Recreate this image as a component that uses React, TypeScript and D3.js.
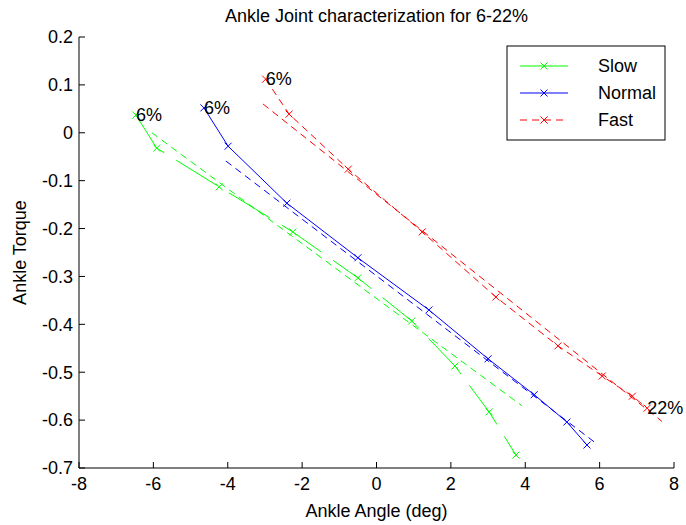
import React from "react";
import * as d3 from "d3";

const slowX = [-6.47, -5.91, -4.23, -2.25, -0.5, 0.95, 2.11, 3.03, 3.75];
const slowY = [0.037, -0.032, -0.113, -0.207, -0.303, -0.393, -0.487, -0.583, -0.673];
const normalX = [-4.64, -3.99, -2.41, -0.5, 1.41, 3.0, 4.24, 5.12, 5.66];
const normalY = [0.052, -0.028, -0.147, -0.261, -0.37, -0.472, -0.547, -0.604, -0.652];
const fastX = [-2.98, -2.35, -0.76, 1.23, 3.21, 4.88, 6.07, 6.88, 7.28];
const fastY = [0.112, 0.039, -0.076, -0.207, -0.343, -0.445, -0.508, -0.55, -0.575];

const slowFitX = [-6.04, 3.91];
const slowFitY = [0.0, -0.57];
const normalFitX = [-4.05, 5.88];
const normalFitY = [-0.059, -0.647];
const fastFitX = [-3.05, 7.68];
const fastFitY = [0.06, -0.603];

const xTicks = [-8, -6, -4, -2, 0, 2, 4, 6, 8];
const yTicks = [0.2, 0.1, 0, -0.1, -0.2, -0.3, -0.4, -0.5, -0.6, -0.7];
const yTickLabels = ["0.2", "0.1", "0", "-0.1", "-0.2", "-0.3", "-0.4", "-0.5", "-0.6", "-0.7"];
const seriesNames = ["Slow", "Normal", "Fast"];
const colors = ["#00ff00", "#0000ff", "#ff0000"];

const W = 686;
const H = 525;
const FONT = "Arial, 'Liberation Sans', Helvetica, sans-serif";

export default function App() {
  const x = d3.scaleLinear().domain([-8, 8]).range([79, 674]);
  const y = d3.scaleLinear().domain([-0.7, 0.2]).range([468, 37]);
  const line = d3
    .line<[number, number]>()
    .x((d) => x(d[0]))
    .y((d) => y(d[1]));

  const series = [
    { xs: slowX, ys: slowY, fx: slowFitX, fy: slowFitY, dash: "48,14" },
    { xs: normalX, ys: normalY, fx: normalFitX, fy: normalFitY, dash: undefined },
    { xs: fastX, ys: fastY, fx: fastFitX, fy: fastFitY, dash: "7,5" },
  ];

  const marker = (cx: number, cy: number, c: string, k: string) => (
    <path
      key={k}
      d={`M${cx - 3.5},${cy - 3.5}L${cx + 3.5},${cy + 3.5}M${cx - 3.5},${cy + 3.5}L${cx + 3.5},${cy - 3.5}`}
      stroke={c}
      strokeWidth={1}
      fill="none"
    />
  );

  const legendX = 507;
  const legendY = 46;
  const legendW = 158;
  const legendH = 94;

  return (
    <svg
      width={W}
      height={H}
      style={{ position: "absolute", left: 0, top: 0, background: "#fff" }}
      fontFamily={FONT}
    >
      <rect x={0} y={0} width={W} height={H} fill="#fff" />
      {series.map((s, i) => {
        const pts = s.xs.map((v, j) => [v, s.ys[j]] as [number, number]);
        const fit = s.fx.map((v, j) => [v, s.fy[j]] as [number, number]);
        return (
          <g key={i}>
            <path d={line(fit) || ""} stroke={colors[i]} fill="none" strokeWidth={1} strokeDasharray="7,5" />
            <path d={line(pts) || ""} stroke={colors[i]} fill="none" strokeWidth={1} strokeDasharray={s.dash} />
            {pts.map((p, j) => marker(x(p[0]), y(p[1]), colors[i], `m${i}-${j}`))}
          </g>
        );
      })}
      <text x={x(slowX[0])} y={y(slowY[0])} dy="0.35em" fontSize={18} fill="#000">6%</text>
      <text x={x(normalX[0])} y={y(normalY[0])} dy="0.35em" fontSize={18} fill="#000">6%</text>
      <text x={x(fastX[0])} y={y(fastY[0])} dy="0.35em" fontSize={18} fill="#000">6%</text>
      <text x={x(fastX[fastX.length - 1])} y={y(fastY[fastY.length - 1])} dy="0.35em" fontSize={18} fill="#000">22%</text>
      <line x1={x(-8)} x2={x(8)} y1={y(-0.7)} y2={y(-0.7)} stroke="#000" strokeWidth={1} />
      <line x1={x(-8)} x2={x(-8)} y1={y(-0.7)} y2={y(0.2)} stroke="#000" strokeWidth={1} />
      {xTicks.map((t) => (
        <g key={`xt${t}`}>
          <line x1={x(t)} x2={x(t)} y1={y(-0.7)} y2={y(-0.7) - 6} stroke="#000" />
          <text x={x(t)} y={y(-0.7) + 22} textAnchor="middle" fontSize={18} fill="#000">
            {t}
          </text>
        </g>
      ))}
      {yTicks.map((t, i) => (
        <g key={`yt${t}`}>
          <line x1={x(-8)} x2={x(-8) + 6} y1={y(t)} y2={y(t)} stroke="#000" />
          <text x={x(-8) - 6} y={y(t)} dy="0.35em" textAnchor="end" fontSize={18} fill="#000">
            {yTickLabels[i]}
          </text>
        </g>
      ))}
      <text x={(x(-8) + x(8)) / 2} y={22} textAnchor="middle" fontSize={18} fill="#000">
        Ankle Joint characterization for 6-22%
      </text>
      <text x={(x(-8) + x(8)) / 2} y={517} textAnchor="middle" fontSize={18} fill="#000">
        Ankle Angle (deg)
      </text>
      <text
        transform={`translate(26,${(y(0.2) + y(-0.7)) / 2}) rotate(-90)`}
        textAnchor="middle"
        fontSize={18}
        fill="#000"
      >
        Ankle Torque
      </text>
      <rect x={legendX} y={legendY} width={legendW} height={legendH} fill="#fff" stroke="#000" strokeWidth={1} />
      {seriesNames.map((n, i) => {
        const ly = legendY + 20 + i * 27;
        return (
          <g key={n}>
            <line
              x1={legendX + 13}
              x2={legendX + 61}
              y1={ly}
              y2={ly}
              stroke={colors[i]}
              strokeWidth={1}
              strokeDasharray={i === 2 ? "7,5" : undefined}
            />
            {marker(legendX + 37, ly, colors[i], `lm${i}`)}
            <text x={legendX + 91} y={ly} dy="0.35em" fontSize={18} fill="#000">
              {n}
            </text>
          </g>
        );
      })}
    </svg>
  );
}
